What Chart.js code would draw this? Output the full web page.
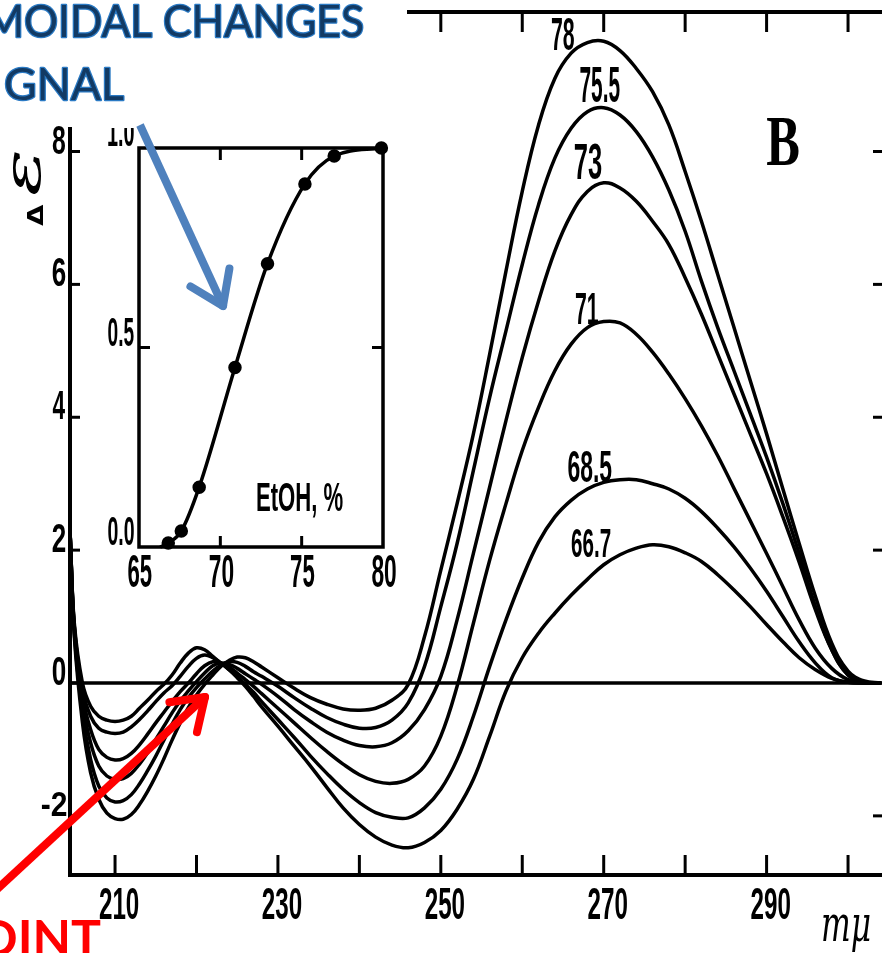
<!DOCTYPE html>
<html>
<head>
<meta charset="utf-8">
<title>CD spectra, EtOH transition</title>
<script src="https://cdn.jsdelivr.net/npm/chart.js@4.4.1/dist/chart.umd.min.js"></script>
<style>
  body { margin: 0; background: #fff; }
  #wrap { position: relative; width: 882px; height: 953px; overflow: hidden; background: #fff; }
  #wrap canvas { position: absolute; }
  #main { left: 0; top: 0; }
  #inset { left: 100px; top: 128px; }
  #notes { left: 0; top: 0; pointer-events: none; }
</style>
</head>
<body>
<div id="wrap">
  <canvas id="main" width="882" height="953"></canvas>
  <canvas id="inset" width="300" height="472"></canvas>
  <canvas id="notes" width="882" height="953"></canvas>
</div>
<script>
// wavelength in mμ
const wavelengths = [204.5, 205, 206, 207, 208, 209, 210, 211, 212, 213, 214, 215, 216, 217, 218, 219, 220, 221, 222, 223, 224, 225, 226, 227, 228,
  230, 232, 234, 236, 238, 240, 242, 244, 246, 248, 250, 252, 254, 256, 258, 260, 262, 264, 266, 268, 270, 272, 274, 276, 278, 280,
  282, 284, 286, 288, 290, 292, 294, 296, 298, 300, 302, 304];

// Δε for each EtOH %
const eps78 = [2.2, 0.7, -0.6, -1.35, -1.75, -1.96, -2.04, -2.05, -1.98, -1.83, -1.63, -1.4, -1.14, -0.86, -0.6, -0.37, -0.18, -0.02, 0.12, 0.25, 0.34, 0.39, 0.38, 0.32, 0.24,
  0.08, -0.08, -0.22, -0.32, -0.39, -0.41, -0.38, -0.26, -0.02, 0.7, 1.7, 2.7, 3.75, 4.95, 6.2, 7.4, 8.4, 9.1, 9.48, 9.64, 9.66, 9.52, 9.25, 8.9, 8.4, 7.7,
  6.95, 6.15, 5.35, 4.55, 3.75, 2.92, 2.1, 1.3, 0.6, 0.18, 0.03, 0];
const eps755 = [2.2, 0.75, -0.45, -1.15, -1.55, -1.73, -1.79, -1.77, -1.68, -1.52, -1.32, -1.1, -0.86, -0.62, -0.4, -0.22, -0.07, 0.06, 0.18, 0.27, 0.32, 0.31, 0.25, 0.17, 0.1,
  -0.05, -0.22, -0.38, -0.52, -0.62, -0.68, -0.67, -0.56, -0.3, 0.25, 1.15, 2.1, 3.2, 4.3, 5.3, 6.3, 7.2, 7.9, 8.35, 8.6, 8.66, 8.55, 8.3, 7.92, 7.42, 6.8,
  6.05, 5.35, 4.7, 4.05, 3.4, 2.7, 1.95, 1.15, 0.5, 0.12, 0.01, 0];
const eps73 = [2.2, 0.8, -0.3, -0.9, -1.25, -1.4, -1.45, -1.44, -1.36, -1.22, -1.05, -0.85, -0.65, -0.45, -0.27, -0.12, 0.02, 0.15, 0.26, 0.3, 0.28, 0.22, 0.14, 0.06, -0.02,
  -0.2, -0.4, -0.58, -0.74, -0.86, -0.94, -0.96, -0.9, -0.72, -0.4, 0.1, 0.95, 1.95, 2.95, 3.95, 4.9, 5.75, 6.5, 7.05, 7.4, 7.53, 7.45, 7.25, 6.95, 6.6, 6.1,
  5.55, 4.95, 4.35, 3.75, 3.15, 2.5, 1.82, 1.1, 0.5, 0.12, 0.01, 0];
const eps71 = [2.2, 0.85, -0.2, -0.7, -1.0, -1.12, -1.16, -1.14, -1.06, -0.93, -0.77, -0.6, -0.44, -0.28, -0.13, 0.0, 0.14, 0.26, 0.32, 0.3, 0.24, 0.15, 0.05, -0.05, -0.16,
  -0.38, -0.6, -0.82, -1.03, -1.22, -1.38, -1.48, -1.51, -1.45, -1.25, -0.8, -0.05, 0.9, 1.85, 2.7, 3.5, 4.15, 4.7, 5.1, 5.35, 5.44, 5.42, 5.25, 4.98, 4.65, 4.28,
  3.87, 3.42, 2.93, 2.44, 1.95, 1.45, 0.95, 0.52, 0.22, 0.05, 0, 0];
const eps685 = [2.2, 0.85, -0.1, -0.5, -0.68, -0.74, -0.76, -0.74, -0.66, -0.55, -0.42, -0.28, -0.15, -0.04, 0.1, 0.25, 0.37, 0.42, 0.38, 0.3, 0.2, 0.1, -0.02, -0.14, -0.28,
  -0.55, -0.82, -1.1, -1.36, -1.6, -1.8, -1.95, -2.02, -2.03, -1.88, -1.6, -1.15, -0.5, 0.25, 0.95, 1.58, 2.12, 2.5, 2.75, 2.92, 3.02, 3.06, 3.06, 3.0, 2.92, 2.78,
  2.58, 2.33, 2.05, 1.73, 1.38, 1.0, 0.62, 0.3, 0.08, 0.01, 0, 0];
const eps667 = [2.2, 0.9, 0.0, -0.35, -0.5, -0.56, -0.58, -0.56, -0.5, -0.38, -0.26, -0.13, -0.02, 0.12, 0.3, 0.45, 0.53, 0.5, 0.4, 0.3, 0.2, 0.08, -0.05, -0.2, -0.36,
  -0.65, -0.95, -1.25, -1.57, -1.88, -2.13, -2.32, -2.44, -2.48, -2.4, -2.22, -1.9, -1.45, -0.8, -0.12, 0.38, 0.75, 1.05, 1.32, 1.56, 1.78, 1.93, 2.03, 2.08, 2.05, 1.96,
  1.83, 1.63, 1.4, 1.15, 0.88, 0.62, 0.38, 0.2, 0.07, 0.01, 0, 0];

const seriesNames = ['78', '75.5', '73', '71', '68.5', '66.7'];
const seriesValues = [eps78, eps755, eps73, eps71, eps685, eps667];

const xTicks = [210, 220, 230, 240, 250, 260, 270, 280, 290, 300];
const xTickLabels = ['210', '230', '250', '270', '290'];
const topTicks = [250, 260, 270, 280, 290, 300];
const yTicks = [-2, 0, 2, 4, 6, 8];
const yTickLabels = ['-2', '0', '2', '4', '6', '8'];

// inset: fraction of the change vs EtOH %
const etohPct = [66.3, 66.8, 67.6, 68.7, 70.9, 72.9, 75.2, 77.0, 79.9];
const fraction = [0, 0.01, 0.04, 0.15, 0.45, 0.71, 0.91, 0.98, 1.0];
const insetXTicks = [65, 70, 75, 80];
const insetYTicks = [0, 0.5, 1];
const insetYLabels = ['0.0', '0.5', '1.0'];

const numFont = 'bold 40px "Liberation Sans Narrow", "Liberation Sans", sans-serif';

// draw a string so that its ink box fills the given box
function fitBox(ctx, str, cx, cy, w, h, font) {
  ctx.save();
  ctx.font = font;
  ctx.textAlign = 'left';
  ctx.textBaseline = 'alphabetic';
  const m = ctx.measureText(str);
  const bw = m.actualBoundingBoxLeft + m.actualBoundingBoxRight;
  const bh = m.actualBoundingBoxAscent + m.actualBoundingBoxDescent;
  ctx.translate(cx - w / 2, cy - h / 2);
  ctx.scale(w / bw, h / bh);
  ctx.fillText(str, m.actualBoundingBoxLeft, m.actualBoundingBoxAscent);
  ctx.restore();
}

function seg(ctx, x0, y0, x1, y1) {
  ctx.beginPath();
  ctx.moveTo(x0, y0);
  ctx.lineTo(x1, y1);
  ctx.stroke();
}

const mainDecor = {
  id: 'mainDecor',
  beforeDatasetsDraw(chart) {
    const ctx = chart.ctx;
    const a = chart.chartArea;
    const xs = chart.scales.x, ys = chart.scales.y;
    ctx.save();
    ctx.strokeStyle = '#000';
    ctx.lineCap = 'butt';
    ctx.lineWidth = 4;
    seg(ctx, a.left, 127, a.left, a.bottom + 2);   // left
    seg(ctx, a.left - 2, a.bottom, a.right, a.bottom); // bottom
    seg(ctx, 407, a.top, a.right, a.top);         // top (rest hidden under note)
    ctx.lineWidth = 3.5;
    const y0 = ys.getPixelForValue(0);
    seg(ctx, a.left, y0, a.right, y0);
    ctx.lineWidth = 3;
    xTicks.forEach(v => {
      const x = xs.getPixelForValue(v);
      seg(ctx, x, a.bottom, x, a.bottom - 20);
    });
    topTicks.forEach(v => {
      const x = xs.getPixelForValue(v);
      seg(ctx, x, a.top, x, a.top + 20);
    });
    yTicks.forEach(v => {
      const y = ys.getPixelForValue(v);
      seg(ctx, a.left, y, a.left + 10, y);
      seg(ctx, a.right, y, a.right - 9, y);
    });
    ctx.restore();
  },
  afterDraw(chart) {
    const ctx = chart.ctx;
    const xs = chart.scales.x, ys = chart.scales.y;
    ctx.save();
    ctx.fillStyle = '#000';
    xTickLabels.forEach(t => {
      fitBox(ctx, t, xs.getPixelForValue(Number(t)) + 4, 903, 39, 31, numFont);
    });
    yTickLabels.forEach(t => {
      const y = ys.getPixelForValue(Number(t)) - 12;
      if (t === '-2') fitBox(ctx, t, 54, y, 25, 24, numFont);
      else fitBox(ctx, t, 59, y, 13, 28, numFont);
    });
    // curve labels (EtOH %)
    const lab = [[563, 34, 23, 32], [600, 84, 40, 35], [588, 161, 27, 35], [587, 308, 23, 31], [590, 466, 44, 31], [591, 542, 39, 29]];
    seriesNames.forEach((n, i) => fitBox(ctx, n, lab[i][0], lab[i][1], lab[i][2], lab[i][3], numFont));
    fitBox(ctx, 'B', 783, 141, 32, 47, 'bold 60px "Liberation Serif", serif');
    fitBox(ctx, 'mμ', 846, 933, 47, 36, 'italic 40px "DejaVu Serif", serif');
    // y title, rotated
    ctx.translate(29, 188);
    ctx.rotate(-Math.PI / 2);
    fitBox(ctx, 'Δ', -27, 6, 22, 15, 'bold 30px "DejaVu Sans", sans-serif');
    fitBox(ctx, 'ε', 14, -1, 44, 27, 'italic 40px "DejaVu Serif", serif');
    ctx.restore();
  }
};

new Chart(document.getElementById('main'), {
  type: 'line',
  data: {
    datasets: seriesValues.map((vals, i) => ({
      label: seriesNames[i],
      data: wavelengths.map((w, j) => ({ x: w, y: vals[j] })),
      borderColor: '#000',
      borderWidth: 3.5,
      pointRadius: 0,
      fill: false,
      tension: 0.4
    }))
  },
  options: {
    responsive: false,
    animation: false,
    devicePixelRatio: 1,
    layout: { padding: { left: 70, right: 0, top: 12, bottom: 78 } },
    plugins: { legend: { display: false }, tooltip: { enabled: false } },
    scales: {
      x: { type: 'linear', min: 204.47, max: 304.17, display: false },
      y: { type: 'linear', min: -2.89, max: 10.1, display: false }
    }
  },
  plugins: [mainDecor]
});

const insetDecor = {
  id: 'insetDecor',
  beforeDatasetsDraw(chart) {
    const ctx = chart.ctx;
    const a = chart.chartArea;
    const xs = chart.scales.x, ys = chart.scales.y;
    ctx.save();
    ctx.strokeStyle = '#000';
    ctx.lineWidth = 3.5;
    ctx.strokeRect(a.left, a.top, a.right - a.left, a.bottom - a.top);
    ctx.lineWidth = 3;
    [70, 75].forEach(v => {
      const x = xs.getPixelForValue(v);
      seg(ctx, x, a.top, x, a.top + 12);
      seg(ctx, x, a.bottom, x, a.bottom - 11);
    });
    const y = ys.getPixelForValue(0.5);
    seg(ctx, a.left, y, a.left + 11, y);
    seg(ctx, a.right, y, a.right - 11, y);
    ctx.restore();
  },
  afterDraw(chart) {
    const ctx = chart.ctx;
    const a = chart.chartArea;
    const xs = chart.scales.x, ys = chart.scales.y;
    ctx.save();
    ctx.fillStyle = '#000';
    insetXTicks.forEach(v => fitBox(ctx, String(v), xs.getPixelForValue(v) + 1, a.bottom + 23, 24, 33, numFont));
    insetYTicks.forEach((v, i) => fitBox(ctx, insetYLabels[i], a.left - 18, ys.getPixelForValue(v) - 16, 26, 28, numFont));
    fitBox(ctx, 'EtOH, %', 200, 372, 86, 36, numFont);
    ctx.restore();
  }
};

new Chart(document.getElementById('inset'), {
  type: 'line',
  data: {
    datasets: [{
      data: etohPct.map((p, i) => ({ x: p, y: fraction[i] })),
      borderColor: '#000',
      backgroundColor: '#000',
      borderWidth: 3.5,
      pointRadius: etohPct.map((p, i) => (i === 0 ? 0 : 5)),
      fill: false,
      cubicInterpolationMode: 'monotone'
    }]
  },
  options: {
    responsive: false,
    animation: false,
    devicePixelRatio: 1,
    clip: false,
    layout: { padding: { left: 39, right: 17, top: 20, bottom: 53 } },
    plugins: { legend: { display: false }, tooltip: { enabled: false } },
    scales: {
      x: { type: 'linear', min: 65, max: 80, display: false },
      y: { type: 'linear', min: 0, max: 1, display: false }
    }
  },
  plugins: [insetDecor]
});

// slide annotations on top
function arrow(ctx, x0, y0, x1, y1, color, lw, head) {
  ctx.strokeStyle = color;
  ctx.lineWidth = lw;
  ctx.lineCap = 'butt';
  seg(ctx, x0, y0, x1, y1);
  ctx.lineCap = 'round';
  const ang = Math.atan2(y1 - y0, x1 - x0) + Math.PI;
  [-0.6, 0.6].forEach(d => seg(ctx, x1, y1, x1 + head * Math.cos(ang + d), y1 + head * Math.sin(ang + d)));
}

const notes = document.getElementById('notes').getContext('2d');
notes.lineJoin = 'round';
function blueText(str, right, base, fitStr, fitW) {
  notes.save();
  notes.font = '44px Lato, "Open Sans", sans-serif';
  const sx = fitW / notes.measureText(fitStr).width;
  notes.translate(right, base);
  notes.scale(sx, 1);
  notes.textAlign = 'right';
  notes.strokeStyle = '#2b7ac4';
  notes.lineWidth = 2.5;
  notes.strokeText(str, 0, 0);
  notes.fillStyle = '#123a64';
  notes.fillText(str, 0, 0);
  notes.restore();
}
blueText('MOIDAL CHANGES', 364, 37, 'CHANGES', 201);
blueText('GNAL', 124, 100, 'GNAL', 120);
arrow(notes, 140, 125, 223, 306, '#4f81bd', 8, 38);
arrow(notes, -20, 905, 205, 697, '#ff0000', 8, 36);
notes.save();
notes.font = 'bold 50px Lato, "Open Sans", sans-serif';
notes.textAlign = 'right';
notes.fillStyle = '#ff0000';
notes.fillText('OINT', 101, 956);
notes.restore();
</script>
</body>
</html>
